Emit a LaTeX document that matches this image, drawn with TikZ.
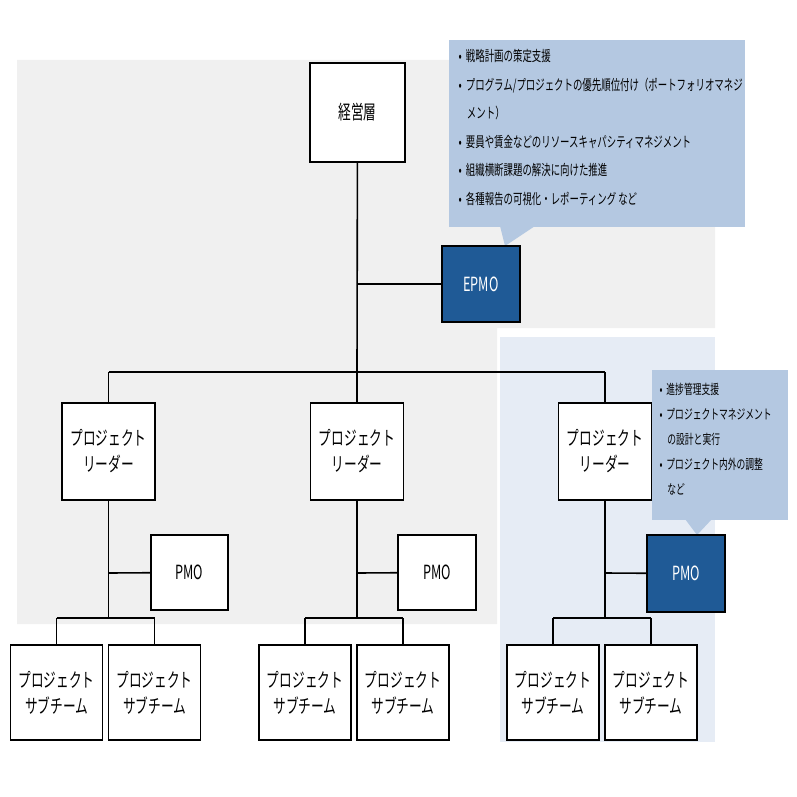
\documentclass[tikz,border=0pt]{standalone}
\usepackage{fontspec}
\setmainfont{Noto Sans CJK JP}[FakeStretch=0.65]
\usetikzlibrary{positioning}
\definecolor{epmoblue}{HTML}{1F5A96}
\definecolor{callblue}{HTML}{B4C8E1}
\definecolor{graybg}{HTML}{F0F0F0}
\definecolor{bluebg}{HTML}{E6ECF5}
\begin{document}
\begin{tikzpicture}[x=1pt,y=-1pt,
                    box/.style={draw,line width=1.1pt,fill=white,inner sep=0pt,font=\fontsize{19.5}{26}\selectfont,align=center},
                    blue box/.style={box,fill=epmoblue,text=white},
                    line/.style={line width=1.6pt},
                    callout/.style={fill=callblue},
                    note/.style={font=\fontsize{14.5}{28.5}\selectfont,align=left,anchor=north west},]
    \useasboundingbox (0,0) rectangle (797,797);
    % backgrounds
    \fill[graybg] (17,60) -- (715,60) -- (715,328) -- (497,328) -- (497,624) -- (17,624) -- cycle;
    \fill[bluebg] (500,337) rectangle (715,742);
    % callouts
    \fill[callout] (449,40) rectangle (745,227);
    \fill[callout] (500,226) -- (505,246) -- (535,226) -- cycle;
    \fill[callout] (652,370) rectangle (788,520);
    \fill[callout] (685,519) -- (697,535) -- (712,519) -- cycle;
    \node[note] (epmonote) at (455,46) {•\ \ 戦略計画の策定支援\\•\ \ プログラム/プロジェクトの優先順位付け（ポートフォリオマネジ\\\ \ \ \ メント）\\•\ \ 要員や賃金などのリソースキャパシティマネジメント\\•\ \ 組織横断課題の解決に向けた推進\\•\ \ 各種報告の可視化・レポーティング など};
    \node[note,font=\fontsize{13.5}{25}\selectfont] (pmonote) at (656,380) {•\ \ 進捗管理支援\\•\ \ プロジェクトマネジメント\\\ \ \ \ の設計と実行\\•\ \ プロジェクト内外の調整\\\ \ \ \ など};
    % boxes
    \node[box,minimum width=95,minimum height=99] (top) at (357.5,112.5) {経営層};
    \node[blue box,minimum width=78,minimum height=76] (epmo) at (481,284) {EPMO};
    \foreach \n/\x in {1/108.5,2/357,3/605}{
        \node[box,minimum width=93,minimum height=97] (lead\n) at (\x,451.5) {プロジェクト\\リーダー};
        \coordinate (fork\n) at (\x,618);
        \node[box,minimum width=92,minimum height=95] (suba\n) at (\x-52,692.5) {プロジェクト\\サブチーム};
        \node[box,minimum width=92,minimum height=95] (subb\n) at (\x+46,692.5) {プロジェクト\\サブチーム};
        \coordinate (join\n) at (\x,573);
        \coordinate (drop\n) at (\x,372);
    }
    \node[box,minimum width=77,minimum height=75] (pmo1) at (189.5,572.5) {PMO};
    \node[box,minimum width=78,minimum height=75] (pmo2) at (437,572.5) {PMO};
    \node[blue box,minimum width=78,minimum height=77] (pmo3) at (686,573.5) {PMO};
    % connectors
    \draw[line] (top) -- (drop2);
    \draw[line] (drop2 |- epmo) -- (epmo);
    \draw[line] (drop1) -- (drop3);
    \foreach \n in {1,2,3}{
        \draw[line] (drop\n) -- (lead\n);
        \draw[line] (lead\n) -- (fork\n);
        \draw[line] (join\n) -- (pmo\n);
        \draw[line] (suba\n.north |- fork\n) -- (subb\n.north |- fork\n);
        \draw[line] (suba\n.north |- fork\n) -- (suba\n);
        \draw[line] (subb\n.north |- fork\n) -- (subb\n);
    }
\end{tikzpicture}
\end{document}
